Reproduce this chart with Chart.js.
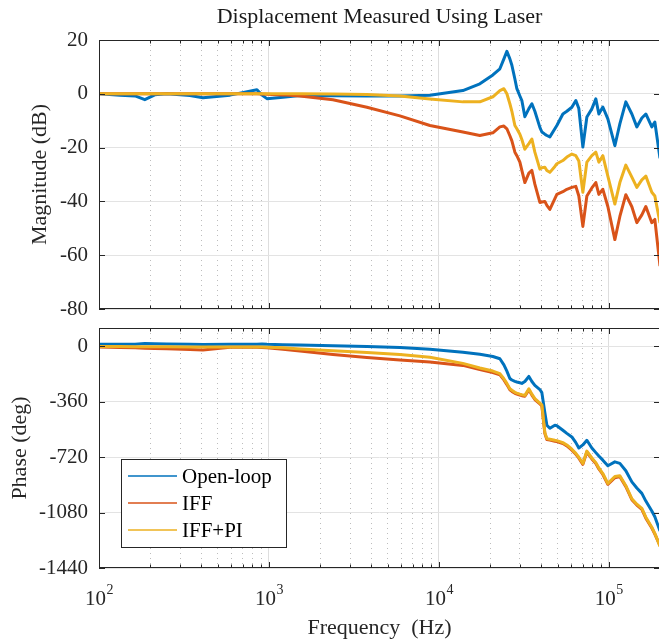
<!DOCTYPE html>
<html lang="en">
<head>
  <meta charset="UTF-8" />
  <title>Displacement Measured Using Laser</title>
  <script src="https://cdn.jsdelivr.net/npm/chart.js"></script>
  <style>
    body {
      margin: 0;
      width: 659px;
      height: 642px;
      overflow: hidden;
      background: #fff;
      position: relative;
    }
    .plot {
      position: absolute;
      left: 0;
    }
    #magBox { top: 0; }
    #phaseBox { top: 317px; }
  </style>
</head>
<body>

  <div class="plot" id="magBox"><canvas id="magChart" width="660" height="322"></canvas></div>
  <div class="plot" id="phaseBox"><canvas id="phaseChart" width="660" height="325"></canvas></div>

  <script>
    // frequency points (Hz), shared by all curves
    const freq = [100, 133, 163, 186, 213, 251, 343, 409, 590, 850, 910, 973, 1209, 1522, 2380, 3771, 5897, 8854,
      13840, 17420, 20780, 22850, 24130, 25120, 26160, 26880, 28000, 28760, 29960, 30770, 32050, 33840,
      35250, 36700, 39280, 40350, 42030, 43180, 44970, 48130, 49440, 53640, 56610, 60590, 63950, 66590,
      70330, 74250, 79430, 83840, 87340, 92200, 98660, 108500, 116100, 125900, 136600, 146100, 156400,
      165100, 179000, 186500, 200000];

    // magnitude (dB)
    const magOpenLoop = [0, -0.5, -0.8, -2.2, -0.4, 0, -0.6, -1.5, -0.5, 1.5, -0.5, -1.8, -1.3, -0.6, -0.7, -0.8, -0.8, -0.5,
      1.2, 3.7, 7, 9.3, 13, 15.8, 13, 10.6, 5.5, 1.9, -0.8, -2.5, -8.5, -5.5, -3.7, -6.5, -12.5, -14.2, -15,
      -15.5, -16, -13, -11.8, -7.5, -6.5, -5, -2.5, -5.5, -19.8, -8.6, -5.6, -1.9, -7.5, -4.9, -9.3, -19.3,
      -11.2, -3, -7.5, -12.3, -9, -7.5, -12.3, -10.5, -24];
    const magIFF = [0, 0, 0, 0, 0, 0, 0, 0, 0, 0, -0.1, -0.2, -0.4, -0.8, -2.2, -5, -8.2, -11.8,
      -14.2, -15.5, -14.5, -12.3, -12, -13, -15.6, -17.5, -21.7, -23, -25.4, -28.5, -33, -29.5, -28.5, -33.6,
      -40.4, -40.2, -40, -41.5, -43, -39, -37.4, -36.4, -35.5, -34.8, -34.4, -38, -49.3, -38, -35, -33, -37.4,
      -35.5, -41.9, -54.2, -45.6, -37.5, -42, -47.9, -45, -41.9, -47.9, -46.7, -64];
    const magIFFPI = [0, 0, 0, 0, 0, 0, 0, 0, 0, 0, 0, 0, 0, 0, -0.1, -0.3, -0.8, -1.9,
      -3, -3, -1.1, 1.2, 1.9, 0, -3.7, -6.5, -11.8, -13, -15, -17, -20.6, -18.5, -16.8, -21.7, -28, -27.5,
      -27.3, -28.5, -29.2, -27, -26, -24.8, -23.5, -22.4, -23, -25, -36.6, -25.4, -23, -21.7, -25.4, -23,
      -30.6, -41, -33, -26.5, -31, -34.8, -32, -30.6, -36.6, -38, -48];

    // phase (deg)
    const phaseOpenLoop = [14, 14, 15, 20, 18, 16, 14, 13, 14, 15, 16, 14, 11, 9, 5, 0, -6, -18,
      -37, -50, -65, -80, -120, -160, -208, -218, -227, -231, -236, -240, -228, -195, -228, -253, -280, -300,
      -430, -512, -532, -512, -515, -545, -565, -588, -625, -660, -640, -610, -660, -690, -712, -739, -775,
      -750, -760, -808, -880, -920, -955, -1005, -1070, -1107, -1200];
    const phaseIFF = [-4, -7, -9, -11, -13, -15, -20, -23, -5, -5, -6, -8, -18, -30, -52, -72, -88, -101,
      -123, -150, -170, -185, -217, -248, -282, -292, -304, -309, -316, -320, -324, -282, -316, -345, -374,
      -386, -566, -605, -609, -616, -618, -631, -646, -674, -701, -726, -766, -686, -731, -761, -796, -832,
      -896, -853, -846, -911, -996, -1031, -1059, -1116, -1180, -1220, -1295];
    const phaseIFFPI = [-1, -1, -1.5, -2, -2, -2, -3, -3, -3, -4, -4, -5, -9, -16, -28, -40, -52, -70,
      -110, -140, -160, -177, -210, -240, -275, -285, -298, -303, -310, -314, -318, -275, -310, -339, -368,
      -380, -560, -599, -603, -610, -612, -625, -640, -668, -695, -720, -761, -680, -725, -755, -790, -826,
      -890, -845, -840, -905, -990, -1025, -1053, -1110, -1175, -1215, -1300];

    const seriesNames = ['Open-loop', 'IFF', 'IFF+PI'];
    const seriesColors = ['#0072BD', '#D95319', '#EDB120'];

    // ticks
    const decades = [1e2, 1e3, 1e4, 1e5];
    const decadeLabels = ['2', '3', '4', '5'];
    const magTicks = [-80, -60, -40, -20, 0, 20];
    const phaseTicks = [-1440, -1080, -720, -360, 0];

    const serif = '"Liberation Serif", "Times New Roman", serif';
    const axisColor = '#262626';

    Chart.defaults.font.family = serif;

    function isDecade(v) {
      const e = Math.log10(v);
      return Math.abs(e - Math.round(e)) < 1e-9;
    }

    // 1..9 x 10^n grid positions
    const xGrid = [];
    decades.forEach(d => {
      for (let k = 1; k <= 9; k++) if (d * k <= 2e5) xGrid.push(d * k);
    });

    function toPoints(ys) {
      return freq.map((f, i) => ({ x: f, y: ys[i] }));
    }

    function datasets(arrs) {
      return arrs.map((arr, i) => ({
        label: seriesNames[i],
        data: toPoints(arr),
        borderColor: seriesColors[i],
        backgroundColor: seriesColors[i],
        borderWidth: 3,
        pointRadius: 0,
        tension: 0,
        borderJoinStyle: 'round',
        order: 2 - i
      }));
    }

    function xScale(height, withTitle) {
      return {
        type: 'logarithmic',
        min: 100,
        max: 2e5,
        afterBuildTicks: s => { s.ticks = xGrid.map(v => ({ value: v, major: isDecade(v) })); },
        afterFit: s => { s.height = height; },
        ticks: { display: false },
        grid: {
          drawTicks: false,
          color: c => (c.tick && !isDecade(c.tick.value)) ? '#bdbdbd' : '#dedede',
          lineWidth: 1
        },
        border: {
          display: false,
          dash: c => (c.tick && !isDecade(c.tick.value)) ? [1, 4] : []
        },
        title: {
          display: withTitle,
          text: 'Frequency  (Hz)',
          color: axisColor,
          font: { size: 22 },
          padding: { top: 0, bottom: 1 }
        }
      };
    }

    function yScale(min, max, tickList, label, titlePad) {
      return {
        type: 'linear',
        min: min,
        max: max,
        afterBuildTicks: s => { s.ticks = tickList.map(v => ({ value: v })); },
        afterFit: s => {
          s.width = 99;
          // labels may overhang the plot box, don't shrink it for them
          s.paddingTop = 0;
          s.paddingBottom = 0;
        },
        ticks: {
          callback: v => String(v),
          color: axisColor,
          font: { size: 21 },
          padding: 11
        },
        grid: { drawTicks: false, color: '#e3e3e3', lineWidth: 1 },
        border: { display: false },
        title: {
          display: true,
          text: label,
          color: axisColor,
          font: { size: 22 },
          padding: { top: titlePad, bottom: 0 }
        }
      };
    }

    // box around the axes with inward tick marks, like MATLAB
    const boxTicks = {
      id: 'boxTicks',
      afterDatasetsDraw(chart) {
        const { ctx, chartArea: a, scales: { x, y } } = chart;
        ctx.save();
        ctx.strokeStyle = axisColor;
        ctx.lineWidth = 1;
        ctx.strokeRect(a.left + 0.5, a.top + 0.5, a.right - a.left - 1, a.bottom - a.top - 1);
        ctx.beginPath();
        x.ticks.forEach(t => {
          const px = Math.round(x.getPixelForValue(t.value)) + 0.5;
          const len = isDecade(t.value) ? 6 : 3.5;
          ctx.moveTo(px, a.bottom);
          ctx.lineTo(px, a.bottom - len);
          ctx.moveTo(px, a.top);
          ctx.lineTo(px, a.top + len);
        });
        y.ticks.forEach(t => {
          const py = Math.round(y.getPixelForValue(t.value)) + 0.5;
          ctx.moveTo(a.left, py);
          ctx.lineTo(a.left + 6, py);
          ctx.moveTo(a.right, py);
          ctx.lineTo(a.right - 6, py);
        });
        ctx.stroke();
        ctx.restore();
      }
    };

    // 10^n labels under the lower plot
    const decadeTickLabels = {
      id: 'decadeTickLabels',
      afterDraw(chart) {
        const { ctx, chartArea: a, scales: { x } } = chart;
        ctx.save();
        ctx.fillStyle = axisColor;
        ctx.textBaseline = 'alphabetic';
        ctx.textAlign = 'left';
        decades.forEach((d, i) => {
          const px = x.getPixelForValue(d);
          ctx.font = '21px ' + serif;
          const wBase = ctx.measureText('10').width;
          ctx.font = '14px ' + serif;
          const wExp = ctx.measureText(decadeLabels[i]).width;
          const left = px - (wBase + wExp) / 2;
          ctx.font = '21px ' + serif;
          ctx.fillText('10', left, a.bottom + 37);
          ctx.font = '14px ' + serif;
          ctx.fillText(decadeLabels[i], left + wBase + 0.5, a.bottom + 26);
        });
        ctx.restore();
      }
    };

    const boxLegend = {
      id: 'boxLegend',
      afterDraw(chart) {
        const { ctx, chartArea: a } = chart;
        const bx = a.left + 22, by = a.top + 131, bw = 165, bh = 88;
        ctx.save();
        ctx.fillStyle = '#fff';
        ctx.fillRect(bx, by, bw, bh);
        ctx.strokeStyle = axisColor;
        ctx.lineWidth = 1;
        ctx.strokeRect(bx + 0.5, by + 0.5, bw, bh);
        ctx.font = '21px ' + serif;
        ctx.textBaseline = 'middle';
        ctx.textAlign = 'left';
        chart.data.datasets.forEach((ds, i) => {
          const yy = by + 17 + i * 27;
          ctx.strokeStyle = ds.borderColor;
          ctx.lineWidth = 1.5;
          ctx.beginPath();
          ctx.moveTo(bx + 7, yy);
          ctx.lineTo(bx + 56, yy);
          ctx.stroke();
          ctx.fillStyle = '#000';
          ctx.fillText(ds.label, bx + 61, yy + 1);
        });
        ctx.restore();
      }
    };

    new Chart(document.getElementById('magChart'), {
      type: 'line',
      data: { datasets: datasets([magOpenLoop, magIFF, magIFFPI]) },
      options: {
        responsive: false,
        animation: false,
        layout: { padding: 0 },
        plugins: {
          legend: { display: false },
          tooltip: { enabled: false },
          title: {
            display: true,
            text: 'Displacement Measured Using Laser',
            color: '#1a1a1a',
            fullSize: false,
            font: { size: 22, weight: 'normal' },
            padding: { top: 4, bottom: 9.6 }
          }
        },
        scales: {
          x: xScale(13, false),
          y: yScale(-80, 20, magTicks, 'Magnitude (dB)', 27)
        }
      },
      plugins: [boxTicks]
    });

    new Chart(document.getElementById('phaseChart'), {
      type: 'line',
      data: { datasets: datasets([phaseOpenLoop, phaseIFF, phaseIFFPI]) },
      options: {
        responsive: false,
        animation: false,
        layout: { padding: { top: 11, left: 0, right: 0, bottom: 0 } },
        plugins: {
          legend: { display: false },
          tooltip: { enabled: false }
        },
        scales: {
          x: xScale(74, true),
          y: yScale(-1440, 120, phaseTicks, 'Phase (deg)', 7)
        }
      },
      plugins: [boxTicks, decadeTickLabels, boxLegend]
    });
  </script>
</body>
</html>
